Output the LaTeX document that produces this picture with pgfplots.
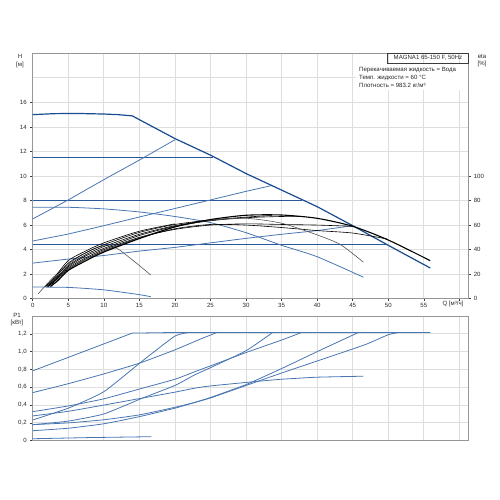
\documentclass[border=0pt]{standalone}
\usepackage{fontspec}
\setmainfont{Liberation Sans}
\usepackage{pgfplots}
\pgfplotsset{compat=1.18}
\definecolor{gridgray}{RGB}{222,222,222}
\definecolor{framegray}{RGB}{150,150,150}
\definecolor{tickgray}{RGB}{60,60,60}
\definecolor{labelgray}{RGB}{40,40,40}
\definecolor{hblue}{RGB}{40,88,155}
\definecolor{lblue}{RGB}{72,118,178}
\definecolor{mblue}{RGB}{25,75,145}
\definecolor{effgray}{RGB}{85,85,85}
\newcommand{\sm}{\fontsize{6.1}{7}\selectfont}
\pgfplotsset{
  base/.style={
    scale only axis, width=435.6bp, anchor=south west,
    xmin=0, xmax=61.25,
    axis line style={draw=framegray, line width=0.6bp},
    grid style={draw=gridgray, line width=0.8bp},
    tick style={draw=tickgray, line width=0.5bp},
    tick align=outside, major tick length=2.5bp,
    ticklabel style={font=\sm, text=labelgray},
    /pgf/number format/assume math mode=true,
    xtick pos=bottom, ytick pos=left,
  },
  hl/.style={draw=hblue, line width=0.9bp},
  pl/.style={draw=lblue, line width=0.8bp},
  ef/.style={draw=black, line width=0.6bp, smooth, tension=0.45},
}
\begin{document}
\begin{tikzpicture}
\path[use as bounding box] (0,0) rectangle (500bp,500bp);
% ---------------- top axis: H ----------------
\begin{axis}[base, at={(32.7bp,201.3bp)}, height=245.4bp,
  ymin=0, ymax=20,
  xtick={0,5,...,60}, xticklabels={0,5,10,15,20,25,30,35,40,45,50,55,{}},
  ytick={0,2,...,16}, grid=major,
  extra y ticks={18}, extra y tick labels={}, extra y tick style={major tick length=0pt, grid=major},
  xticklabel style={yshift=1bp},
]
% constant pressure lines
\addplot[hl] coordinates {(0,11.5) (25.4,11.5)};
\addplot[hl] coordinates {(0,8) (37.8,8)};
\addplot[hl] coordinates {(0,4.45) (49.8,4.45)};
% proportional pressure lines
\addplot[pl] coordinates {(0,6.5) (5,8.05) (10,9.7) (15,11.3) (20,12.95)};
\addplot[pl] coordinates {(0,4.7) (5,5.27) (10,5.95) (15,6.66) (20,7.35) (25,8.05) (30,8.75) (33.6,9.22)};
\addplot[pl] coordinates {(0,2.9) (5,3.23) (10,3.52) (15,3.88) (20,4.18) (25,4.55) (30,4.92) (35,5.25) (40,5.55) (45,5.95)};
% constant curve
\addplot[pl, smooth, tension=0.4] coordinates {(0,7.45) (5,7.45) (10,7.32) (15,7.07) (20,6.7) (25,6.2) (30,5.38) (35,4.35) (40,3.42) (46.5,1.75)};
% min curve
\addplot[pl, smooth, tension=0.4] coordinates {(0,0.95) (5,0.92) (10,0.72) (15,0.33) (16.6,0.16)};
% max curve
\addplot[draw=mblue, line width=1.2bp] coordinates {(0,15) (3,15.08) (6,15.1) (10,15.05) (12,15.0) (14,14.9) (20,13.05) (25,11.7) (30,10.2) (35,8.85) (40,7.5) (45,5.95) (50,4.35) (55.9,2.5)};
\end{axis}
% ---------------- efficiency axis ----------------
\begin{axis}[base, at={(32.7bp,201.3bp)}, height=245.4bp,
  ymin=0, ymax=200, axis y line*=right, axis x line=none,
  ytick={0,20,...,100}, ytick pos=right,
  yticklabel style={anchor=west, xshift=-0.5bp},
]
\addplot[ef, draw=effgray] coordinates {(0.75,3.8) (2,12) (3,18) (5,28) (7,36) (9,41.5) (10.5,43.3) (12,40.5) (13.6,33.5) (15,27) (16.6,19.3)};
\addplot[ef] coordinates {(1.8,10) (3,17) (5,31) (7.5,39) (10,45.5) (15,55) (20,61)};
\addplot[ef] coordinates {(1.8,10) (3,16) (5,29) (7.5,37.5) (10,44) (15,54) (20,60.5) (25.3,64.5)};
\addplot[ef] coordinates {(2,10) (3,15) (5,27) (7.5,36) (10,42.5) (15,52.5) (20,59.5) (25,64) (30,66.5) (33.6,67.8)};
\addplot[ef] coordinates {(2,10) (3,14.5) (5,26) (7.5,35) (10,41) (15,51.5) (20,59) (25,63.5) (30,66) (35,67) (37.8,67)};
\addplot[ef] coordinates {(2.2,10) (3,14) (5,25) (7.5,33.5) (10,40) (15,50) (20,56.5) (25,60) (30,61) (35,60.5) (40,60) (45,59)};
\addplot[ef] coordinates {(2.2,10) (3,13.5) (5,24) (7.5,32.5) (10,39) (15,49.5) (20,57) (25,60.5) (30,60) (35,58) (40,55.5) (45,53.5) (49.8,48.7)};
\addplot[ef, draw=effgray] coordinates {(2.5,10) (3.5,15) (5,23.5) (7.5,32) (10,38.5) (15,49.5) (20,58.5) (25,64) (30,65.5) (35,61.5) (40,52) (43.3,44) (46.5,29.7)};
\addplot[ef, line width=1.1bp] coordinates {(2.5,10) (3.5,14.5) (5,23) (7.5,31) (10,38) (15,49) (20,58.5) (25,64.5) (30,68) (35,68.2) (40,65.5) (45,59) (50,47.8) (55.9,31)};
\end{axis}
% ---------------- bottom axis: P1 ----------------
\begin{axis}[base, at={(32.7bp,59.3bp)}, height=124.7bp,
  ymin=0, ymax=1.4,
  xtick={0,5,...,60}, xticklabels={}, xmajorticks=false,
  ytick={0,0.2,0.4,0.6,0.8,1.0,1.2},
  yticklabels={0,{0,2},{0,4},{0,6},{0,8},{1,0},{1,2}},
  grid=major,
]
\addplot[pl] coordinates {(0,0.784) (14,1.208) (20,1.215) (55.9,1.215)};
\addplot[pl, smooth, tension=0.3] coordinates {(0,0.233) (5,0.365) (10,0.55) (15.5,0.9) (20,1.175) (22,1.215)};
\addplot[pl, smooth, tension=0.3] coordinates {(0,0.54) (5,0.64) (10,0.75) (15,0.87) (20,1.02) (23.25,1.13) (25.9,1.215)};
\addplot[pl, smooth, tension=0.3] coordinates {(0,0.326) (5,0.39) (10,0.47) (15,0.58) (20,0.69) (22.8,0.775) (25,0.84) (30,0.99) (35,1.13) (37.8,1.215)};
\addplot[pl, smooth, tension=0.3] coordinates {(0,0.18) (5,0.22) (10,0.3) (15.5,0.48) (20,0.62) (22.8,0.74) (25,0.82) (30,1.01) (33.75,1.215)};
\addplot[pl, smooth, tension=0.3] coordinates {(0,0.278) (5,0.33) (10,0.40) (15.5,0.48) (20,0.545) (22.8,0.59) (25,0.615) (31.3,0.664) (35,0.69) (40,0.713) (46.5,0.724)};
\addplot[pl, smooth, tension=0.3] coordinates {(0,0.18) (5,0.2) (10,0.235) (15,0.29) (20,0.375) (22.8,0.43) (25,0.48) (30,0.62) (35,0.76) (40,0.895) (46.7,1.077) (50,1.19) (51.5,1.215)};
\addplot[pl, smooth, tension=0.3] coordinates {(0,0.112) (5,0.14) (10,0.19) (15,0.27) (20,0.365) (22.8,0.43) (25,0.485) (30,0.63) (35,0.81) (40,1.0) (45.8,1.215)};
\addplot[pl] coordinates {(0,0.022) (8,0.035) (16.7,0.045)};
\end{axis}
% ---------------- texts ----------------
\node[font=\sm, text=labelgray, align=center] at (20bp,444bp) {H};
\node[font=\sm, text=labelgray, align=center] at (20bp,435bp) {[м]};
\node[font=\sm, text=labelgray] at (482bp,443bp) {eta};
\node[font=\sm, text=labelgray] at (482bp,436bp) {[\%]};
\node[font=\sm, text=labelgray] at (17bp,185bp) {P1};
\node[font=\sm, text=labelgray] at (17bp,177bp) {[кВт]};
\node[font=\sm, text=labelgray] at (453bp,196bp) {Q [м³/ч]};
\fill[white] (356bp,437bp) rectangle (467.8bp,410bp);
\draw[tickgray, line width=0.5bp] (387.7bp,446.7bp) rectangle (468.3bp,437bp);
\node[font=\sm, text=labelgray, inner sep=0pt] at (428bp,441.8bp) {MAGNA1 65-150 F, 50Hz};
\node[font=\sm, text=labelgray, anchor=west, inner sep=0pt] at (359bp,430bp) {Перекачиваемая жидкость = Вода};
\node[font=\sm, text=labelgray, anchor=west, inner sep=0pt] at (359bp,422.4bp) {Темп. жидкости = 60 °C};
\node[font=\sm, text=labelgray, anchor=west, inner sep=0pt] at (359bp,415bp) {Плотность = 983.2 кг/м³};
\end{tikzpicture}
\end{document}
